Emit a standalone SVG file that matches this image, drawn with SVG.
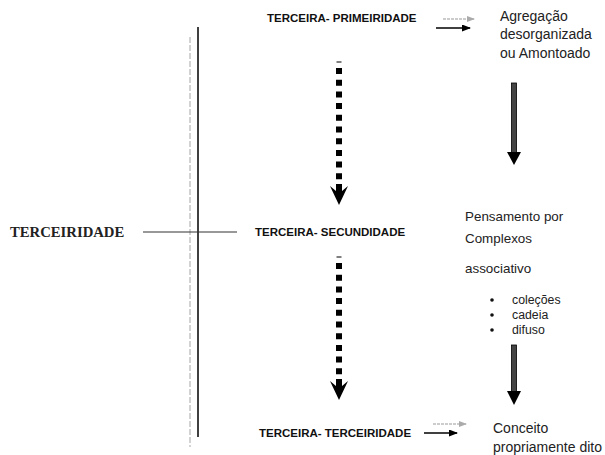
<svg xmlns="http://www.w3.org/2000/svg" width="605" height="455" viewBox="0 0 605 455">
<style>
.lbl{font-family:"Liberation Sans",Arial,sans-serif;font-weight:bold;font-size:11.5px;fill:#111}
.main{font-family:"Liberation Serif","Times New Roman",serif;font-weight:bold;font-size:14.7px;fill:#222}
.txt{font-family:"Liberation Sans",Arial,sans-serif;font-size:14px;fill:#222}
.mid{font-family:"Liberation Sans",Arial,sans-serif;font-size:13.4px;fill:#222}
.sm{font-family:"Liberation Sans",Arial,sans-serif;font-size:12.3px;fill:#222}
.sq{stroke:#000;stroke-width:6;stroke-dasharray:6 5.7;fill:none}
.tick{stroke:#000;stroke-width:1;fill:none}
.shaft{fill:#444;stroke:#000;stroke-width:0.8}
.head{fill:#000}
.thin{stroke:#000;stroke-width:1.6;fill:none}
.ghost{stroke:#999;stroke-width:1;stroke-dasharray:3 1;fill:none}
</style>
<defs>
<marker id="ah" markerWidth="9" markerHeight="7" refX="8" refY="3.5" orient="auto" markerUnits="userSpaceOnUse">
<path d="M0,0 L9,3.5 L0,7 Z" fill="#000"/>
</marker>
<marker id="ahg" markerWidth="8" markerHeight="6" refX="7" refY="3" orient="auto" markerUnits="userSpaceOnUse">
<path d="M0,0 L8,3 L0,6 Z" fill="#aaa"/>
</marker>
</defs>
<rect width="605" height="455" fill="#fff"/>

<g id="axis">
<line x1="190" y1="37" x2="190" y2="447" stroke="#cfcfcf" stroke-width="1.8" stroke-dasharray="6 2"/>
<line x1="198" y1="27" x2="198" y2="437" stroke="#000" stroke-width="1.5"/>
</g>

<g id="connectors">
<line x1="143" y1="232" x2="237" y2="232" stroke="#333" stroke-width="1.2"/>
<line class="ghost" x1="443" y1="19" x2="474" y2="19" marker-end="url(#ahg)"/>
<line class="thin" x1="436" y1="28" x2="470" y2="28" marker-end="url(#ah)"/>
<line class="ghost" x1="433" y1="424" x2="466" y2="424" marker-end="url(#ahg)"/>
<line class="thin" x1="424" y1="433" x2="457" y2="433" marker-end="url(#ah)"/>
<g id="dash1">
<line class="tick" x1="336.5" y1="62" x2="341.5" y2="62"/>
<line class="sq" x1="339" y1="68" x2="339" y2="182"/>
<polygon class="head" points="330,186 336,191 336,184 342,184 342,191 348,186 339,205"/>
</g>
<g id="dash2">
<line class="tick" x1="336.5" y1="257" x2="341.5" y2="257"/>
<line class="sq" x1="339" y1="263" x2="339" y2="377"/>
<polygon class="head" points="330,381 336,386 336,379 342,379 342,386 348,381 339,400"/>
</g>
<g id="solid1">
<rect class="shaft" x="511.5" y="83" width="5" height="70"/>
<polygon class="head" points="507,152 521,152 514,165"/>
</g>
<g id="solid2">
<rect class="shaft" x="511.5" y="345" width="5" height="47"/>
<polygon class="head" points="507,391 521,391 514,405"/>
</g>
</g>

<g id="terceiridade">
<text class="main" x="10" y="237">TERCEIRIDADE</text>
</g>
<g id="terceira-primeiridade">
<text class="lbl" x="267" y="22">TERCEIRA- PRIMEIRIDADE</text>
</g>
<g id="terceira-secundidade">
<text class="lbl" x="255" y="236">TERCEIRA- SECUNDIDADE</text>
</g>
<g id="terceira-terceiridade">
<text class="lbl" x="259" y="437">TERCEIRA- TERCEIRIDADE</text>
</g>
<g id="agregacao">
<text class="txt" x="500" y="21">Agregação</text>
<text class="txt" x="500" y="39">desorganizada</text>
<text class="txt" x="500" y="58">ou Amontoado</text>
</g>
<g id="complexos">
<text class="mid" x="465" y="221">Pensamento por</text>
<text class="mid" x="465" y="243">Complexos</text>
<text class="mid" x="465" y="273">associativo</text>
<circle cx="492" cy="300" r="1.8" fill="#111"/>
<circle cx="492" cy="315" r="1.8" fill="#111"/>
<circle cx="492" cy="330" r="1.8" fill="#111"/>
<text class="sm" x="512" y="304">coleções</text>
<text class="sm" x="512" y="319">cadeia</text>
<text class="sm" x="512" y="334">difuso</text>
</g>
<g id="conceito">
<text class="txt" x="493" y="433">Conceito</text>
<text class="txt" x="493" y="452">propriamente dito</text>
</g>
</svg>
